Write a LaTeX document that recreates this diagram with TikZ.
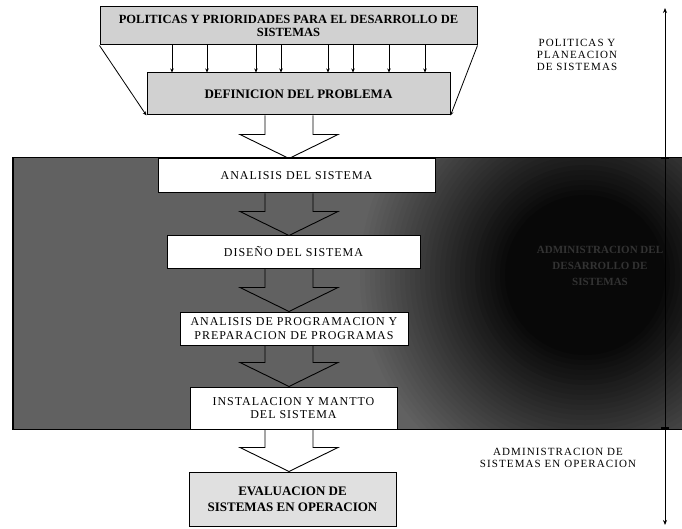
\documentclass[tikz,border=0pt]{standalone}
\usepackage{fontspec}
\setmainfont{Liberation Serif}
\newfontfamily\spacedfont[LetterSpace=8]{Liberation Serif}
\newfontfamily\widefont[LetterSpace=10]{Liberation Serif}
\usetikzlibrary{calc,arrows.meta}
\newcommand{\harrow}[2]{%
  \draw[hollowarrow] ($(ax|-#1.south)+(-24,0)$) -- ($(ax|-#2.north)+(-24,-24)$)
    -- ($(ax|-#2.north)+(-49,-24)$) -- (ax|-#2.north)
    -- ($(ax|-#2.north)+(49,-24)$) -- ($(ax|-#2.north)+(24,-24)$)
    -- ($(ax|-#1.south)+(24,0)$);}
\begin{document}
\begin{tikzpicture}[x=1pt,y=-1pt,
  graybox/.style={draw=black,line width=1pt,fill=black!18,inner sep=2pt,align=center,font=\fontsize{12.5}{13}\selectfont\bfseries},
  whitebox/.style={draw=black,line width=1pt,fill=white,inner sep=2pt,align=center,font=\spacedfont\fontsize{12}{13.5}\selectfont},
  hollowarrow/.style={draw=black,line width=0.9pt,line join=miter},
  smallarrow/.style={draw=black,line width=0.8pt,-{Stealth[length=4pt,width=3.5pt]}},
  sidelabel/.style={align=center,font=\widefont\fontsize{11}{12.3}\selectfont},
  hidden/.style={align=center,text=black!80,font=\fontsize{11}{16}\selectfont\bfseries}]
\useasboundingbox (0,0) rectangle (682,529);
\fill[white] (0,0) rectangle (682,529);
\coordinate (ax) at (289,0);
% dark region
\node[draw=black,line width=1pt,fill=black!62,minimum width=669pt,minimum height=271pt,inner sep=0pt] (region) at (347.5,293.5) {};
\begin{scope}
  \clip (13,158) rectangle (682,429);
  \foreach \i in {0,...,30}{
    \pgfmathsetmacro{\rr}{230-5*\i}
    \pgfmathsetmacro{\pp}{62+35*\i/30}
    \fill[black!\pp] (585,275) circle[radius=\rr];
  }
\end{scope}
\draw[line width=1pt] (region.north west) rectangle (region.south east);
\node[hidden] (hid) at (600,266) {ADMINISTRACION DEL\\DESARROLLO DE\\SISTEMAS};
% top boxes
\node[graybox,minimum width=377pt,minimum height=38pt] (pol) at (288.5,26) {POLITICAS Y PRIORIDADES PARA EL DESARROLLO DE\\SISTEMAS};
\node[graybox,font=\fontsize{13}{14}\selectfont\bfseries,minimum width=303pt,minimum height=42pt] (def) at (298.5,94) {DEFINICION DEL PROBLEMA};
\foreach \xx [count=\i] in {172,207,256,281,328,353,389,425}{
  \coordinate (c\i) at (\xx,0);
  \draw[smallarrow] (pol.south -| c\i) -- (def.north -| c\i);
}
\draw[smallarrow] (pol.south west) -- (def.south west);
\draw[smallarrow] (pol.south east) -- (def.south east);
% white boxes
\node[whitebox,minimum width=277pt,minimum height=34pt] (ana) at (296.5,176) {ANALISIS DEL SISTEMA};
\node[whitebox,minimum width=253pt,minimum height=32pt] (dis) at (293.5,252) {DISEÑO DEL SISTEMA};
\node[whitebox,minimum width=228pt,minimum height=33pt] (prog) at (294,328.5) {ANALISIS DE PROGRAMACION Y\\PREPARACION DE PROGRAMAS};
\node[whitebox,minimum width=207pt,minimum height=42pt] (inst) at (293.5,408) {INSTALACION Y MANTTO\\DEL SISTEMA};
\node[graybox,fill=black!12,font=\fontsize{13}{16}\selectfont\bfseries,minimum width=207pt,minimum height=54pt] (eval) at (292.5,499) {EVALUACION DE\\SISTEMAS EN OPERACION};
% hollow arrows
\harrow{def}{ana}
\harrow{ana}{dis}
\harrow{dis}{prog}
\harrow{prog}{inst}
\harrow{inst}{eval}
% right scale
\coordinate (vtop) at (665,8);
\coordinate (vm1) at (665,158);
\coordinate (vm2) at (665,428);
\coordinate (vbot) at (665,525);
\draw[line width=1pt,-{Stealth[length=5pt,width=4pt]}] (vm1) -- (vtop);
\draw[line width=1pt] (vm1) -- (vm2);
\draw[line width=1pt,-{Stealth[length=5pt,width=4pt]}] (vm2) -- (vbot);
\draw[line width=1.6pt] (661,158) -- (669,158);
\draw[line width=1.6pt] (661,428) -- (669,428);
\node[sidelabel] (lab1) at (577,55) {POLITICAS Y\\PLANEACION\\DE SISTEMAS};
\node[sidelabel] (lab2) at (558,458) {ADMINISTRACION DE\\SISTEMAS EN OPERACION};
\end{tikzpicture}
\end{document}
